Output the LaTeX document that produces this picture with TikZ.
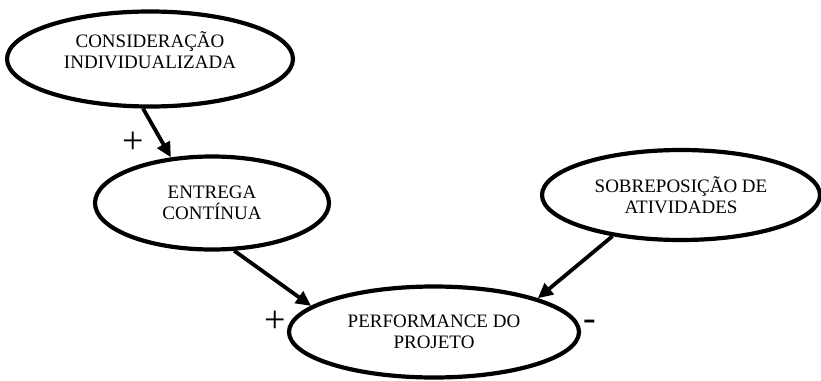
\documentclass[tikz,border=0pt]{standalone}
\usepackage{fontspec}
\setmainfont{Liberation Serif}
\usetikzlibrary{shapes.geometric,arrows.meta}
\begin{document}
\begin{tikzpicture}[x=1pt,y=-1pt,
  bubble/.style={ellipse,draw,line width=4.2pt,inner sep=0pt,align=center,
    font=\fontsize{19}{21}\selectfont},
  arr/.style={line width=3.8pt,-{Triangle[length=15pt,width=14pt]}},
  sign/.style={font=\fontsize{38}{38}\selectfont,inner sep=0pt}]
\useasboundingbox (0,0) rectangle (821,380);
\node[bubble,minimum width=286pt,minimum height=95pt] (c) at (150,59) {CONSIDERAÇÃO\\INDIVIDUALIZADA\\[-3pt]};
\node[bubble,minimum width=234pt,minimum height=93pt] (e) at (212,203) {ENTREGA\\CONTÍNUA};
\node[bubble,minimum width=278pt,minimum height=90pt] (s) at (681,195) {SOBREPOSIÇÃO DE\\ATIVIDADES};
\node[bubble,minimum width=290pt,minimum height=91pt] (p) at (434,332) {PERFORMANCE DO\\PROJETO};
\draw[arr] (c.-98) -- (e.132);
\draw[arr] (e.-65) -- (p.168);
\draw[arr] (s.-149) -- (p.18);
\node[sign] (l1) at (133,143) {+};
\node[sign] (l2) at (275,322) {+};
\node[sign] (l3) at (590,325) {-};
\end{tikzpicture}
\end{document}
